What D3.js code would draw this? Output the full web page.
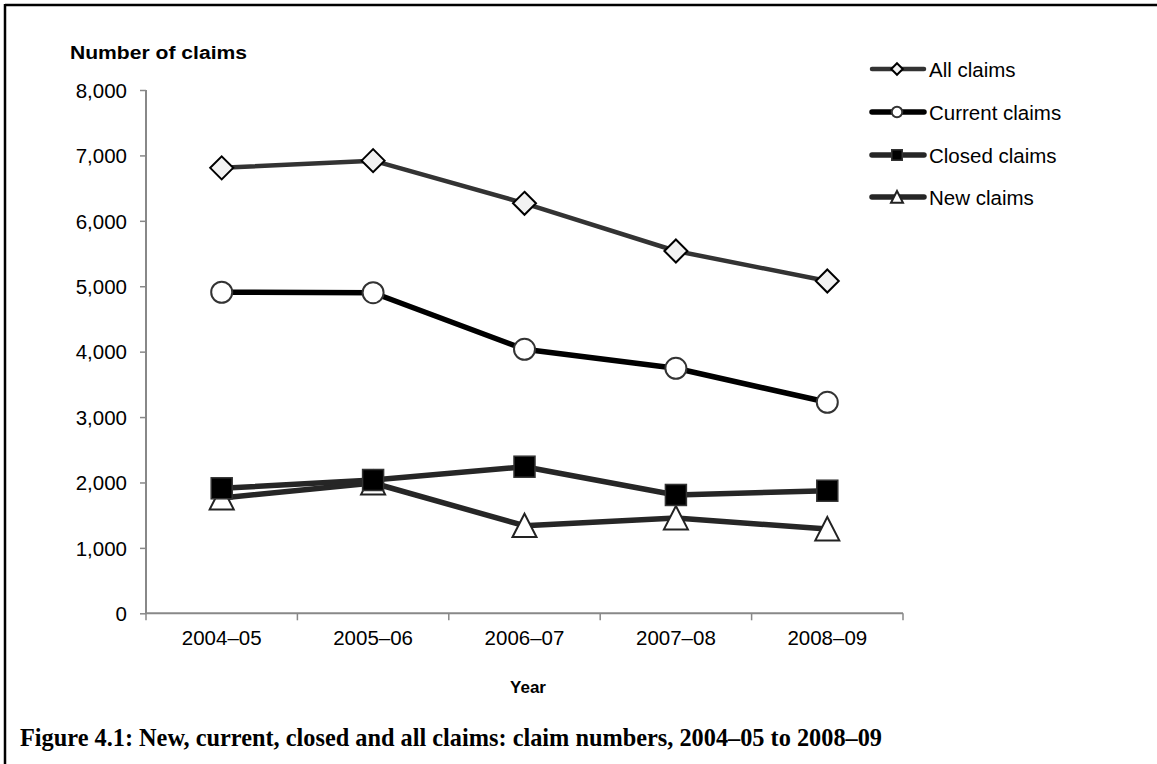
<!DOCTYPE html>
<html>
<head>
<meta charset="utf-8">
<script src="https://cdn.jsdelivr.net/npm/d3@7"></script>
<style>
  html, body { margin: 0; padding: 0; background: #fff; }
  svg { display: block; }
</style>
</head>
<body>
<svg id="chart" width="1157" height="764"></svg>
<script>
// Claim counts by financial year
const years = ["2004–05", "2005–06", "2006–07", "2007–08", "2008–09"];
const allClaims = [6810, 6920, 6268, 5539, 5080];
const currentClaims = [4908, 4901, 4036, 3746, 3226];
const closedClaims = [1911, 2038, 2241, 1809, 1874];
const newClaims = [1763, 1992, 1339, 1457, 1289];
const yTicks = [0, 1000, 2000, 3000, 4000, 5000, 6000, 7000, 8000];
const seriesNames = ["All claims", "Current claims", "Closed claims", "New claims"];

const svg = d3.select("#chart");
const font = "'Liberation Sans', Arial, sans-serif";

// Frame (top and left rules)
svg.append("line").attr("x1", 5).attr("y1", 5).attr("x2", 1157).attr("y2", 5)
  .attr("stroke", "#000").attr("stroke-width", 2.5);
svg.append("line").attr("x1", 5).attr("y1", 4).attr("x2", 5).attr("y2", 764)
  .attr("stroke", "#000").attr("stroke-width", 2.5);

const plot = { left: 146, right: 903, top: 90, bottom: 613.3 };

const x = d3.scaleBand().domain(years).range([plot.left, plot.right]).padding(0);
const y = d3.scaleLinear().domain([0, 8000]).range([plot.bottom, plot.top]);
const cx = d => x(d) + x.bandwidth() / 2;

// Y axis
const yAxis = svg.append("g").attr("transform", `translate(${plot.left},0)`)
  .call(d3.axisLeft(y).tickValues(yTicks).tickSize(6).tickPadding(13)
    .tickFormat(d3.format(",")));
yAxis.select(".domain").attr("stroke", "#888").attr("stroke-width", 2)
  .attr("d", `M0,${plot.top}V${plot.bottom}`);
yAxis.selectAll(".tick line").attr("stroke", "#888").attr("stroke-width", 1.5);
yAxis.selectAll(".tick text").attr("font-family", font).attr("font-size", 20.5)
  .attr("fill", "#000").attr("dy", "0.35em");

// X axis
const xAxis = svg.append("g").attr("transform", `translate(0,${plot.bottom})`)
  .call(d3.axisBottom(x).tickSize(0).tickPadding(17));
xAxis.select(".domain").attr("stroke", "#888").attr("stroke-width", 2)
  .attr("d", `M${plot.left},0H${plot.right}`);
xAxis.selectAll(".tick text").attr("font-family", font).attr("font-size", 20.5)
  .attr("fill", "#000");
// category boundary ticks
const bounds = years.map(d => x(d)).concat([x(years[years.length - 1]) + x.bandwidth()]);
xAxis.selectAll(".bound").data(bounds).enter().append("line")
  .attr("x1", d => d).attr("x2", d => d).attr("y1", 0).attr("y2", 7)
  .attr("stroke", "#888").attr("stroke-width", 1.5);

// Axis titles
svg.append("text").attr("x", 70).attr("y", 59).text("Number of claims")
  .attr("font-family", font).attr("font-size", 18).attr("font-weight", "bold")
  .attr("textLength", 177).attr("lengthAdjust", "spacingAndGlyphs");
svg.append("text").attr("x", 528).attr("y", 693).attr("text-anchor", "middle").text("Year")
  .attr("font-family", font).attr("font-size", 17).attr("font-weight", "bold");

// Caption
svg.append("text").attr("x", 20).attr("y", 746)
  .text("Figure 4.1: New, current, closed and all claims: claim numbers, 2004–05 to 2008–09")
  .attr("font-family", "'Liberation Serif', 'DejaVu Serif', serif")
  .attr("font-size", 24.5).attr("font-weight", "bold")
  .attr("textLength", 862).attr("lengthAdjust", "spacingAndGlyphs");

// Series styles
const series = [
  { name: seriesNames[0], values: allClaims, stroke: "#333", width: 4.5, marker: "diamond" },
  { name: seriesNames[1], values: currentClaims, stroke: "#000", width: 5.5, marker: "circle" },
  { name: seriesNames[2], values: closedClaims, stroke: "#262626", width: 5.5, marker: "square" },
  { name: seriesNames[3], values: newClaims, stroke: "#262626", width: 5.5, marker: "triangle" }
];

function drawMarker(g, type, s) {
  // s = scale factor (1 for plot, smaller for legend)
  if (type === "diamond") {
    const r = 11.5 * s;
    g.append("path").attr("d", `M0,${-r}L${r},0L0,${r}L${-r},0Z`)
      .attr("fill", "#f2f2f2").attr("stroke", "#000").attr("stroke-width", 2);
  } else if (type === "circle") {
    g.append("circle").attr("r", 10.5 * s)
      .attr("fill", "#fff").attr("stroke", "#333").attr("stroke-width", 2);
  } else if (type === "square") {
    const h = 10.5 * s;
    g.append("rect").attr("x", -h).attr("y", -h).attr("width", 2 * h).attr("height", 2 * h)
      .attr("fill", "#000").attr("stroke", "#333").attr("stroke-width", 1.5);
  } else if (type === "triangle") {
    const h = 12 * s;
    g.append("path").attr("d", `M0,${-h}L${h},${h * 0.95}L${-h},${h * 0.95}Z`)
      .attr("fill", "#fff").attr("stroke", "#222").attr("stroke-width", 2);
  }
}

const line = d3.line().x((d, i) => cx(years[i])).y(d => y(d));

// Lower series first so the upper ones sit on top
const drawOrder = [3, 2, 1, 0];
drawOrder.forEach(k => {
  const sr = series[k];
  svg.append("path").datum(sr.values).attr("d", line)
    .attr("fill", "none").attr("stroke", sr.stroke).attr("stroke-width", sr.width)
    .attr("stroke-linejoin", "round");
});
drawOrder.forEach(k => {
  const sr = series[k];
  sr.values.forEach((v, i) => {
    const g = svg.append("g").attr("transform", `translate(${cx(years[i])},${y(v)})`);
    drawMarker(g, sr.marker, 1);
  });
});

// Legend
const legendY = [69, 112, 155, 197];
series.forEach((sr, i) => {
  const g = svg.append("g").attr("transform", `translate(0,${legendY[i]})`);
  g.append("line").attr("x1", 872).attr("x2", 924).attr("y1", 0).attr("y2", 0)
    .attr("stroke", sr.stroke).attr("stroke-width", sr.width).attr("stroke-linecap", "round");
  const m = g.append("g").attr("transform", "translate(897,0)");
  drawMarker(m, sr.marker, 0.5);
  g.append("text").attr("x", 929).attr("y", 7.5).text(sr.name)
    .attr("font-family", font).attr("font-size", 20.5).attr("fill", "#000");
});
</script>
</body>
</html>
